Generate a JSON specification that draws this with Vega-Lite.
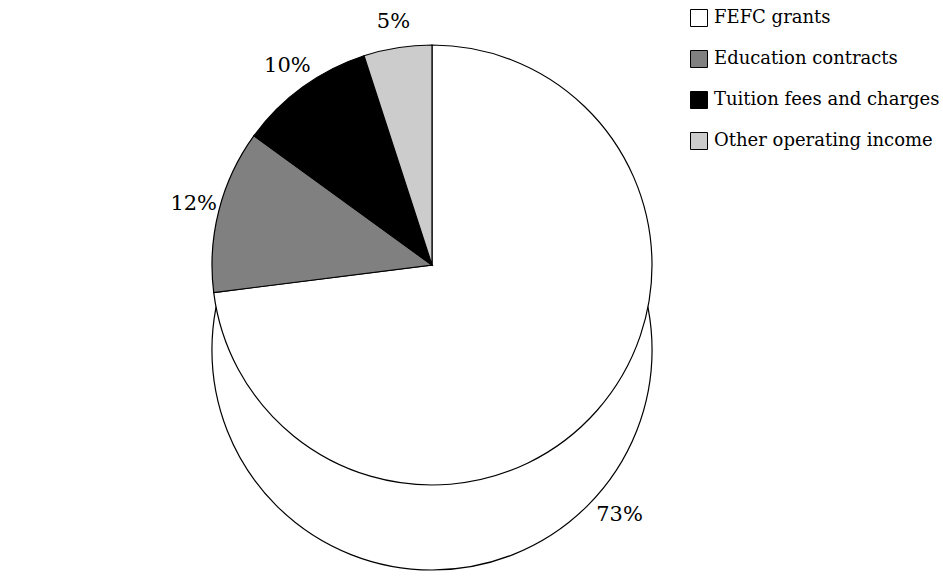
{
  "$schema": "https://vega.github.io/schema/vega-lite/v6.json",
  "width": 864,
  "height": 530,
  "autosize": {"type": "none"},
  "padding": {"left": 0, "top": 0, "right": 79, "bottom": 55},
  "background": "white",
  "config": {
    "view": {"stroke": null},
    "font": "DejaVu Serif"
  },
  "data": {
    "values": [
      {"source": "FEFC grants", "share": 73, "rank": 1},
      {"source": "Education contracts", "share": 12, "rank": 2},
      {"source": "Tuition fees and charges", "share": 10, "rank": 3},
      {"source": "Other operating income", "share": 5, "rank": 4}
    ]
  },
  "transform": [
    {"calculate": "datum.share + '%'", "as": "label"}
  ],
  "layer": [
    {
      "transform": [
        {"aggregate": [{"op": "sum", "field": "share", "as": "total"}]}
      ],
      "mark": {
        "type": "arc",
        "radius": 220,
        "yOffset": 85,
        "fill": "white",
        "stroke": "black",
        "strokeWidth": 1.2
      },
      "encoding": {
        "theta": {"field": "total", "type": "quantitative"}
      }
    },
    {
      "mark": {
        "type": "arc",
        "radius": 220,
        "stroke": "black",
        "strokeWidth": 1.2
      },
      "encoding": {
        "theta": {"field": "share", "type": "quantitative", "stack": true},
        "order": {"field": "rank", "type": "quantitative"},
        "color": {
          "field": "source",
          "type": "nominal",
          "scale": {
            "domain": ["FEFC grants", "Education contracts", "Tuition fees and charges", "Other operating income"],
            "range": ["#ffffff", "#808080", "#000000", "#cccccc"]
          },
          "legend": {
            "title": null,
            "orient": "none",
            "legendX": 690,
            "legendY": 9,
            "symbolType": "square",
            "symbolSize": 289,
            "symbolStrokeColor": "black",
            "symbolStrokeWidth": 1,
            "symbolOpacity": 1,
            "labelFont": "DejaVu Serif",
            "labelFontSize": 18,
            "labelColor": "black",
            "labelOffset": 6,
            "rowPadding": 19,
            "labelLimit": 300
          }
        }
      }
    },
    {
      "mark": {
        "type": "text",
        "radius": 246,
        "fontSize": 21,
        "font": "DejaVu Serif",
        "color": "black"
      },
      "encoding": {
        "theta": {"field": "share", "type": "quantitative", "stack": true},
        "order": {"field": "rank", "type": "quantitative"},
        "text": {
          "condition": {"test": "datum.source !== 'FEFC grants'", "field": "label"},
          "value": ""
        }
      }
    },
    {
      "mark": {
        "type": "text",
        "radius": 250,
        "yOffset": 85,
        "fontSize": 21,
        "font": "DejaVu Serif",
        "color": "black"
      },
      "encoding": {
        "theta": {"field": "share", "type": "quantitative", "stack": true},
        "order": {"field": "rank", "type": "quantitative"},
        "text": {
          "condition": {"test": "datum.source === 'FEFC grants'", "field": "label"},
          "value": ""
        }
      }
    }
  ]
}
